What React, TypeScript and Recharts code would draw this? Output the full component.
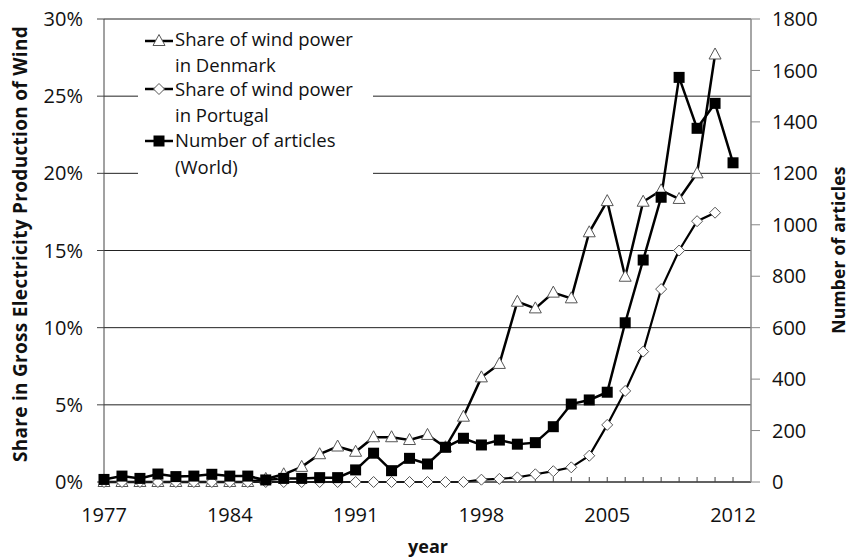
import React from 'react';
import { ComposedChart, Line, XAxis, YAxis, CartesianGrid, Legend, Label } from 'recharts';

const years = [1977,1978,1979,1980,1981,1982,1983,1984,1985,1986,1987,1988,1989,1990,1991,1992,1993,1994,1995,1996,1997,1998,1999,2000,2001,2002,2003,2004,2005,2006,2007,2008,2009,2010,2011,2012];

const denmark = [0,0,0,0,0,0,0,0,0,0.002,0.005,0.0098,0.018,0.023,0.0196,0.029,0.029,0.0272,0.0305,0.0225,0.0423,0.0678,0.0765,0.1168,0.1125,0.1227,0.119,0.1618,0.182,0.133,0.1816,0.189,0.1834,0.20,0.277,null];

const portugal = [0,0,0,0,0,0,0,0,0,0,0,0,0,0,0,0,0,0,0,0,0,0.0015,0.002,0.003,0.005,0.007,0.0095,0.017,0.037,0.059,0.0845,0.125,0.150,0.169,0.1745,null];

const articles = [10,23,14,31,21,23,30,23,23,8,14,14,17,17,47,112,44,92,70,135,170,144,163,147,153,215,303,319,349,619,863,1107,1573,1375,1472,1241];

const xTicks = years;
const xLabelYears = [1977,1984,1991,1998,2005,2012];
const leftTicks = [0,0.05,0.1,0.15,0.2,0.25,0.3];
const rightTicks = [0,200,400,600,800,1000,1200,1400,1600,1800];

const seriesNames = ['Share of wind power in Denmark', 'Share of wind power in Portugal', 'Number of articles (World)'];
const legendLines = [['Share of wind power', 'in Denmark'], ['Share of wind power', 'in Portugal'], ['Number of articles', '(World)']];

const data = years.map((y, i) => ({ year: y, denmark: denmark[i], portugal: portugal[i], articles: articles[i] }));

const FONT = '"Open Sans", "DejaVu Sans", sans-serif';

const Tri = (cx: number, cy: number, key?: any) => (
  <polygon key={key} points={`${cx},${cy - 6.5} ${cx + 6},${cy + 4.5} ${cx - 6},${cy + 4.5}`} fill="#fff" stroke="#555" strokeWidth={1} />
);
const Dia = (cx: number, cy: number, key?: any) => (
  <polygon key={key} points={`${cx},${cy - 5.5} ${cx + 5.5},${cy} ${cx},${cy + 5.5} ${cx - 5.5},${cy}`} fill="#fff" stroke="#555" strokeWidth={1} />
);
const Sq = (cx: number, cy: number, key?: any) => (
  <rect key={key} x={cx - 5.5} y={cy - 5.5} width={11} height={11} fill="#000" />
);

const makeDot = (fn: any) => (props: any) => {
  const { cx, cy, index, value } = props;
  if (cx == null || cy == null || value == null || (Array.isArray(value) && value[1] == null)) return <g key={`e-${index}`} />;
  return fn(cx, cy, `d-${index}`);
};

const renderLegend = () => {
  const markerYs = [17, 65, 117];
  const baselines = [[22, 48], [72, 98], [123, 150]];
  const shapes = [Tri, Dia, Sq];
  return (
    <svg width={235} height={161} style={{ display: 'block', background: '#fff' }}>
      {legendLines.map((lines, i) => (
        <g key={seriesNames[i]}>
          <line x1={7} x2={35} y1={markerYs[i]} y2={markerYs[i]} stroke="#000" strokeWidth={2.5} />
          {shapes[i](21, markerYs[i])}
          <text x={37} y={baselines[i][0]} fontSize={18.5} fill="#111" fontFamily={FONT}>{lines[0]}</text>
          <text x={37} y={baselines[i][1]} fontSize={18.5} fill="#111" fontFamily={FONT}>{lines[1]}</text>
        </g>
      ))}
    </svg>
  );
};

const leftTitle = () => (
  <text x={20} y={244} transform="rotate(-90, 20, 244)" textAnchor="middle" dominantBaseline="central" fontSize={19} letterSpacing={0.3} fontWeight="bold" fill="#111" fontFamily={FONT}>
    Share in Gross Electricity Production of Wind
  </text>
);
const rightTitle = () => (
  <text x={838} y={250} transform="rotate(-90, 838, 250)" textAnchor="middle" dominantBaseline="central" fontSize={17.5} letterSpacing={0.2} fontWeight="bold" fill="#111" fontFamily={FONT}>
    Number of articles
  </text>
);
const xTitle = () => (
  <text x={428} y={553} textAnchor="middle" fontSize={18} fontWeight="bold" fill="#111" fontFamily={FONT}>year</text>
);

export default function App() {
  return (
    <div style={{ position: 'absolute', left: 0, top: 0, width: 851, height: 558, background: '#fff' }}>
      <ComposedChart width={851} height={558} data={data} margin={{ top: 19, right: 0, bottom: 0, left: 0 }} style={{ fontFamily: FONT }}>
        <CartesianGrid vertical={false} yAxisId="left" stroke="#222" strokeWidth={1} />
        <XAxis
          dataKey="year"
          type="number"
          domain={[1977, 2012.5]}
          ticks={xTicks}
          interval={0}
          allowDecimals={false}
          height={76}
          tickSize={-5}
          tickMargin={31}
          tickFormatter={(v: number) => (xLabelYears.includes(v) ? String(v) : '')}
          axisLine={{ stroke: '#333', strokeWidth: 1 }}
          tickLine={{ stroke: '#444', strokeWidth: 1 }}
          tick={{ fontSize: 20, fill: '#111', fontFamily: FONT }}
        >
          <Label content={xTitle} />
        </XAxis>
        <YAxis
          yAxisId="left"
          orientation="left"
          width={104}
          domain={[0, 0.3]}
          ticks={leftTicks}
          interval={0}
          tickSize={7}
          tickMargin={14}
          tickFormatter={(v: number) => `${Math.round(v * 100)}%`}
          axisLine={{ stroke: '#444', strokeWidth: 1 }}
          tickLine={{ stroke: '#444', strokeWidth: 1 }}
          tick={{ fontSize: 20, fill: '#111', fontFamily: FONT }}
        >
          <Label content={leftTitle} />
        </YAxis>
        <YAxis
          yAxisId="right"
          orientation="right"
          width={100}
          domain={[0, 1800]}
          ticks={rightTicks}
          interval={0}
          tickSize={9}
          tickMargin={12}
          axisLine={{ stroke: '#888', strokeWidth: 1.5 }}
          tickLine={{ stroke: '#888', strokeWidth: 1 }}
          tick={{ fontSize: 20, fill: '#111', fontFamily: FONT }}
        >
          <Label content={rightTitle} />
        </YAxis>
        <Legend
          layout="vertical"
          align="center"
          verticalAlign="middle"
          content={renderLegend}
          wrapperStyle={{ left: 138, top: 24, width: 235, height: 161, background: '#fff' }}
        />
        <Line yAxisId="left" type="linear" dataKey="denmark" name={seriesNames[0]} stroke="#000" strokeWidth={2.5} dot={makeDot(Tri)} activeDot={false} isAnimationActive={false} connectNulls={false} />
        <Line yAxisId="left" type="linear" dataKey="portugal" name={seriesNames[1]} stroke="#000" strokeWidth={2.2} dot={makeDot(Dia)} activeDot={false} isAnimationActive={false} connectNulls={false} />
        <Line yAxisId="right" type="linear" dataKey="articles" name={seriesNames[2]} stroke="#000" strokeWidth={2.5} dot={makeDot(Sq)} activeDot={false} isAnimationActive={false} connectNulls={false} />
      </ComposedChart>
    </div>
  );
}
